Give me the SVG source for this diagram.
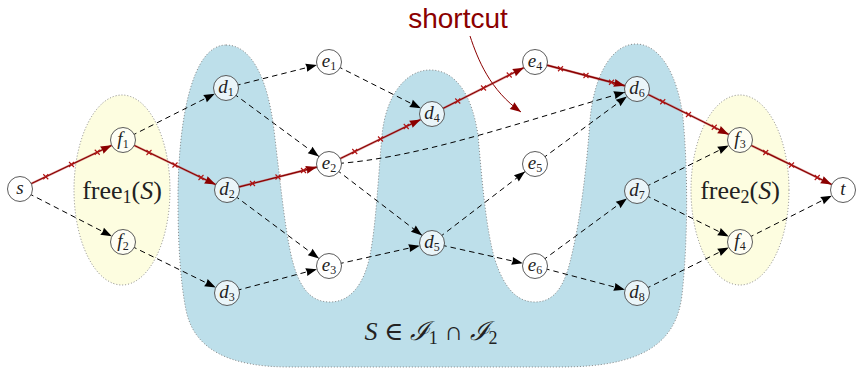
<svg xmlns="http://www.w3.org/2000/svg" width="857" height="369" viewBox="0 0 857 369">
<style>
.region{stroke:#7a7a7a;stroke-width:0.9;stroke-dasharray:1 2}
.dash{fill:none;stroke:#000;stroke-width:1;stroke-dasharray:5.5 4;marker-end:url(#ab)}
.redhalo{fill:none;stroke:#c05050;stroke-width:2.4;opacity:0.55}
.red{fill:none;stroke:#8b0000;stroke-width:1.3;marker-end:url(#ar)}
.cross{fill:none;stroke:#b01515;stroke-width:1.1}
.node circle{stroke:#4a4a4a;stroke-width:0.9}
.in circle{fill:#eaf5f9}
.out circle{fill:#ffffff}
.fr circle{fill:#fefef4}
.lab{font-family:"Liberation Serif","DejaVu Serif",serif;font-style:italic;font-size:19px;fill:#222;text-anchor:middle}
.sub{font-style:normal;font-size:12px}
.big{font-family:"Liberation Serif","DejaVu Serif",serif;font-size:26px;fill:#222;text-anchor:middle}
</style>
<defs>
<marker id="ab" markerUnits="userSpaceOnUse" markerWidth="30" markerHeight="10" refX="23.5" refY="4" orient="auto" overflow="visible"><path d="M0,0 L11,4 L0,8 Q1.5,4 0,0 Z" fill="#000"/></marker>
<marker id="ar" markerUnits="userSpaceOnUse" markerWidth="30" markerHeight="10" refX="23.5" refY="4" orient="auto" overflow="visible"><path d="M0,0 L11,4 L0,8 Q1.5,4 0,0 Z" fill="#8b0000"/></marker>
<marker id="as" markerUnits="userSpaceOnUse" markerWidth="12" markerHeight="10" refX="11" refY="4" orient="auto" overflow="visible"><path d="M0,0 L11,4 L0,8 Q1.5,4 0,0 Z" fill="#8b0000"/></marker>
</defs>
<rect width="857" height="369" fill="#fff"/>
<g id="regions">
<path id="S-region" class="region" fill="#bddfea" d="M226,45 C252,45 268,80 274,130 C280,180 284,220 290,250 C298,290 312,302 330,302 C350,302 364,285 370,255 C376,225 378,180 382,135 C386,95 406,70 430,70 C456,70 472,95 478,135 C482,180 486,230 495,260 C505,290 518,302 535,302 C552,302 563,290 570,262 C577,235 585,190 590,120 C594,75 612,44 636,44 C660,44 678,75 683,118 C688,170 688,240 682,295 C676,345 640,367 560,367 L290,367 C230,367 194,350 186,310 C180,280 178,240 178,200 C178,120 192,45 226,45 Z"/>
<ellipse id="free1" class="region" fill="#fdfde0" cx="122" cy="190" rx="48" ry="95"/>
<ellipse id="free2" class="region" fill="#fdfde0" cx="740" cy="190" rx="49" ry="95"/>
</g>
<g id="labels">
<text class="big" x="122" y="199">free<tspan font-size="18" dy="4">1</tspan><tspan dy="-4">(</tspan><tspan font-style="italic">S</tspan>)</text>
<text class="big" x="740" y="199">free<tspan font-size="18" dy="4">2</tspan><tspan dy="-4">(</tspan><tspan font-style="italic">S</tspan>)</text>
<text class="big" x="431" y="340"><tspan font-style="italic">S</tspan> ∈ <tspan font-style="italic">ℐ</tspan><tspan font-size="18" dy="4">1</tspan><tspan dy="-4"> ∩ </tspan><tspan font-style="italic">ℐ</tspan><tspan font-size="18" dy="4">2</tspan></text>
<text x="458" y="28" font-family="Liberation Sans,Arial,sans-serif" font-size="28" fill="#8b0000" text-anchor="middle">shortcut</text>
</g>
<g id="connectors">
<path class="dash" d="M20,189 L123,242"/>
<path class="dash" d="M123,140 L226,88"/>
<path class="dash" d="M123,242 L227,293"/>
<path class="dash" d="M226,88 L329,62"/>
<path class="dash" d="M226,88 L329,164"/>
<path class="dash" d="M227,190 L329,266"/>
<path class="dash" d="M227,293 L329,266"/>
<path class="dash" d="M329,62 L432,114"/>
<path class="dash" d="M329,164 L432,243"/>
<path class="dash" d="M329,164 C420,160 540,115 637,89"/>
<path class="dash" d="M329,266 L432,243"/>
<path class="dash" d="M432,243 L535,164"/>
<path class="dash" d="M432,243 L535,266"/>
<path class="dash" d="M535,164 L637,89"/>
<path class="dash" d="M535,266 L637,191"/>
<path class="dash" d="M535,266 L637,293"/>
<path class="dash" d="M637,191 L740,140"/>
<path class="dash" d="M637,191 L740,242"/>
<path class="dash" d="M637,293 L740,242"/>
<path class="dash" d="M740,242 L843,190"/>
<path class="redhalo" d="M20,189 L123,140 L227,190 L329,164 L432,114 L535,62 L637,89 L740,140 L843,190"/>
<path class="red" d="M20,189 L123,140"/>
<path class="red" d="M123,140 L227,190"/>
<path class="red" d="M227,190 L329,164"/>
<path class="red" d="M329,164 L432,114"/>
<path class="red" d="M432,114 L535,62"/>
<path class="red" d="M535,62 L637,89"/>
<path class="red" d="M637,89 L740,140"/>
<path class="red" d="M740,140 L843,190"/>
<path class="cross" d="M43.25,174.25 l5,5 m0,-5 l-5,5 M69,162 l5,5 m0,-5 l-5,5 M94.75,149.75 l5,5 m0,-5 l-5,5 M146.5,150 l5,5 m0,-5 l-5,5 M172.5,162.5 l5,5 m0,-5 l-5,5 M198.5,175 l5,5 m0,-5 l-5,5 M250,181 l5,5 m0,-5 l-5,5 M275.5,174.5 l5,5 m0,-5 l-5,5 M301,168 l5,5 m0,-5 l-5,5 M352.25,149 l5,5 m0,-5 l-5,5 M378,136.5 l5,5 m0,-5 l-5,5 M403.75,124 l5,5 m0,-5 l-5,5 M455.25,98.5 l5,5 m0,-5 l-5,5 M481,85.5 l5,5 m0,-5 l-5,5 M506.75,72.5 l5,5 m0,-5 l-5,5 M558,66.25 l5,5 m0,-5 l-5,5 M583.5,73 l5,5 m0,-5 l-5,5 M609,79.75 l5,5 m0,-5 l-5,5 M660.25,99.25 l5,5 m0,-5 l-5,5 M686,112 l5,5 m0,-5 l-5,5 M711.75,124.75 l5,5 m0,-5 l-5,5 M763.25,150 l5,5 m0,-5 l-5,5 M789,162.5 l5,5 m0,-5 l-5,5 M814.75,175 l5,5 m0,-5 l-5,5"/>
<path id="shortcut-arrow" d="M470,36 C478,60 490,90 521,112" fill="none" stroke="#8b0000" stroke-width="1" marker-end="url(#as)"/>
</g>
<g id="node-s" class="node out"><circle cx="20" cy="189" r="12.5"/><text class="lab" x="20" y="194">s</text></g>
<g id="node-f1" class="node fr"><circle cx="123" cy="140" r="12.5"/><text class="lab" x="123" y="145">f<tspan class="sub" dy="3">1</tspan></text></g>
<g id="node-f2" class="node fr"><circle cx="123" cy="242" r="12.5"/><text class="lab" x="123" y="247">f<tspan class="sub" dy="3">2</tspan></text></g>
<g id="node-d1" class="node in"><circle cx="226" cy="88" r="12.5"/><text class="lab" x="226" y="93">d<tspan class="sub" dy="3">1</tspan></text></g>
<g id="node-d2" class="node in"><circle cx="227" cy="190" r="12.5"/><text class="lab" x="227" y="195">d<tspan class="sub" dy="3">2</tspan></text></g>
<g id="node-d3" class="node in"><circle cx="227" cy="293" r="12.5"/><text class="lab" x="227" y="298">d<tspan class="sub" dy="3">3</tspan></text></g>
<g id="node-e1" class="node out"><circle cx="329" cy="62" r="12.5"/><text class="lab" x="329" y="67">e<tspan class="sub" dy="3">1</tspan></text></g>
<g id="node-e2" class="node out"><circle cx="329" cy="164" r="12.5"/><text class="lab" x="329" y="169">e<tspan class="sub" dy="3">2</tspan></text></g>
<g id="node-e3" class="node out"><circle cx="329" cy="266" r="12.5"/><text class="lab" x="329" y="271">e<tspan class="sub" dy="3">3</tspan></text></g>
<g id="node-d4" class="node in"><circle cx="432" cy="114" r="12.5"/><text class="lab" x="432" y="119">d<tspan class="sub" dy="3">4</tspan></text></g>
<g id="node-d5" class="node in"><circle cx="432" cy="243" r="12.5"/><text class="lab" x="432" y="248">d<tspan class="sub" dy="3">5</tspan></text></g>
<g id="node-e4" class="node out"><circle cx="535" cy="62" r="12.5"/><text class="lab" x="535" y="67">e<tspan class="sub" dy="3">4</tspan></text></g>
<g id="node-e5" class="node out"><circle cx="535" cy="164" r="12.5"/><text class="lab" x="535" y="169">e<tspan class="sub" dy="3">5</tspan></text></g>
<g id="node-e6" class="node out"><circle cx="535" cy="266" r="12.5"/><text class="lab" x="535" y="271">e<tspan class="sub" dy="3">6</tspan></text></g>
<g id="node-d6" class="node in"><circle cx="637" cy="89" r="12.5"/><text class="lab" x="637" y="94">d<tspan class="sub" dy="3">6</tspan></text></g>
<g id="node-d7" class="node in"><circle cx="637" cy="191" r="12.5"/><text class="lab" x="637" y="196">d<tspan class="sub" dy="3">7</tspan></text></g>
<g id="node-d8" class="node in"><circle cx="637" cy="293" r="12.5"/><text class="lab" x="637" y="298">d<tspan class="sub" dy="3">8</tspan></text></g>
<g id="node-f3" class="node fr"><circle cx="740" cy="140" r="12.5"/><text class="lab" x="740" y="145">f<tspan class="sub" dy="3">3</tspan></text></g>
<g id="node-f4" class="node fr"><circle cx="740" cy="242" r="12.5"/><text class="lab" x="740" y="247">f<tspan class="sub" dy="3">4</tspan></text></g>
<g id="node-t" class="node out"><circle cx="843" cy="190" r="12.5"/><text class="lab" x="843" y="195">t</text></g>
</svg>
